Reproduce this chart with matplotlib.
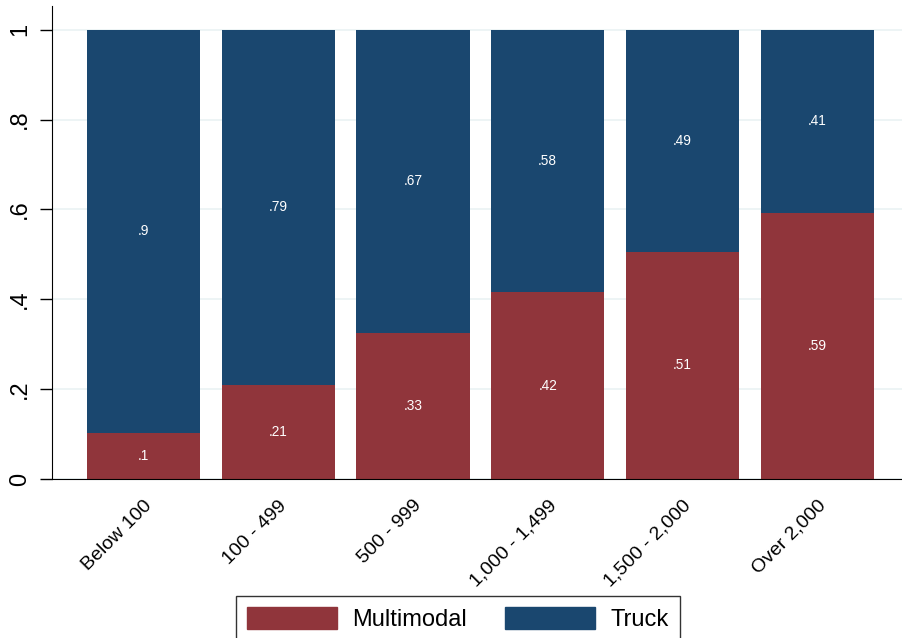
import numpy as np
import matplotlib.pyplot as plt
from matplotlib.patches import Patch

plt.rcParams['font.family'] = ['Liberation Sans', 'DejaVu Sans']

categories = ["Below 100", "100 - 499", "500 - 999", "1,000 - 1,499", "1,500 - 2,000", "Over 2,000"]
multimodal = [0.102, 0.209, 0.326, 0.416, 0.506, 0.592]
truck = [0.898, 0.791, 0.674, 0.584, 0.494, 0.408]

red = "#90353b"
blue = "#1a476f"

def fmt(v):
    s = "%.2f" % v
    s = s.rstrip("0").rstrip(".")
    return s[1:] if s.startswith("0") else s

fig = plt.figure(figsize=(9.02, 6.38), dpi=100)
ax = fig.add_axes([0.0576, 0.2492, 0.9424, 0.7414])

x = np.arange(len(categories))
w = 0.84
ax.bar(x, multimodal, w, color=red, zorder=2)
ax.bar(x, truck, w, bottom=multimodal, color=blue, zorder=2)

for i in range(len(x)):
    ax.text(x[i], multimodal[i] / 2, fmt(multimodal[i]), color="white",
            ha="center", va="center", fontsize=9.8, zorder=3)
    ax.text(x[i], multimodal[i] + truck[i] / 2, fmt(truck[i]), color="white",
            ha="center", va="center", fontsize=9.8, zorder=3)

ax.set_xlim(-0.68, 5.63)
ax.set_ylim(0, 1.053)
ax.set_yticks([0, 0.2, 0.4, 0.6, 0.8, 1])
ax.set_yticklabels(["0", ".2", ".4", ".6", ".8", "1"], rotation=90, va="center", fontsize=17)
ax.set_xticks(x)
ax.set_xticklabels(categories, rotation=45, ha="right", rotation_mode="anchor", fontsize=14)
ax.tick_params(axis="x", length=0, pad=13)
ax.tick_params(axis="y", length=9, width=1, pad=6)
ax.grid(axis="y", color="#eaf2f3", linewidth=1.2, zorder=0)
ax.spines["top"].set_visible(False)
ax.spines["right"].set_visible(False)
ax.spines["left"].set_color("black")
ax.spines["bottom"].set_color("black")

handles = [Patch(color=red, label="Multimodal"), Patch(color=blue, label="Truck")]
leg = fig.legend(handles=handles, loc="upper center", bbox_to_anchor=(458 / 902, 1 - 596 / 638),
                 ncol=2, fontsize=17, frameon=True, fancybox=False, edgecolor="black",
                 handlelength=3.8, handleheight=1.06, handletextpad=0.68,
                 columnspacing=1.6, borderpad=0.45, borderaxespad=0)
leg.get_frame().set_linewidth(1)

fig.savefig("out.png", dpi=100)
